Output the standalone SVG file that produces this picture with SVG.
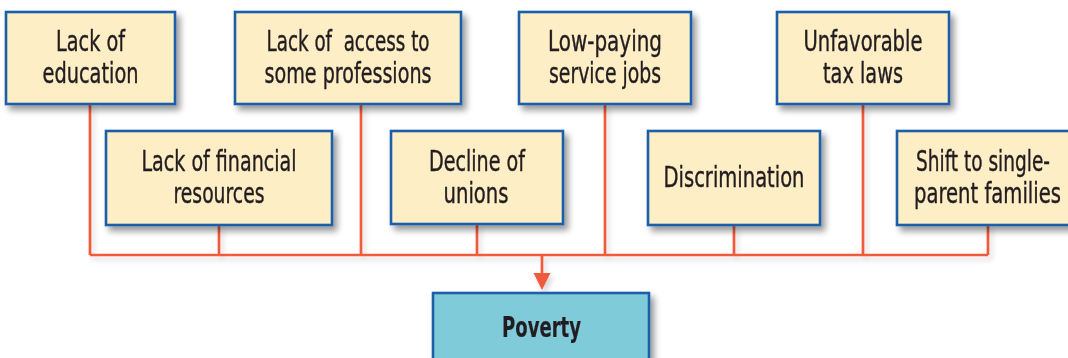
<svg xmlns="http://www.w3.org/2000/svg" width="1068" height="358" viewBox="0 0 1068 358">
<style>
.box{fill:#fdeec6;stroke:#1b5fa9;stroke-width:2.6;}
.pov{fill:#7fcbd9;stroke:#1b5fa9;stroke-width:2.6;}
.t{font-family:"Liberation Sans Narrow","DejaVu Sans Condensed","Liberation Sans",sans-serif;font-size:29px;fill:#231f20;stroke:#231f20;stroke-width:0.4;text-anchor:middle;}
.b{font-weight:bold;stroke-width:0.2;}
.ln{fill:none;stroke:#f05a3e;stroke-width:2.7;}
</style>
<defs>
<filter id="sh" x="-10%" y="-10%" width="130%" height="140%">
<feDropShadow dx="4" dy="5" stdDeviation="3" flood-color="#000" flood-opacity="0.4"/>
</filter>
<filter id="shl" x="-5%" y="-50%" width="110%" height="300%">
<feDropShadow dx="3" dy="4" stdDeviation="2.5" flood-color="#000" flood-opacity="0.15"/>
</filter>
</defs>
<g id="connectors" filter="url(#shl)">
<path class="ln" d="M90 104V255M219 225V255M361 104V255M477 225V255M605 104V255M734 225V255M863 104V255M988 225V255M90 255H988M542 255V274"/>
<polygon points="533.5,273 550.5,273 542,290" fill="#f05a3e"/>
</g>
<g id="n1" filter="url(#sh)"><rect class="box" x="6" y="12" width="169" height="92"/>
<text class="t" x="90.5" y="51" textLength="69" lengthAdjust="spacingAndGlyphs">Lack of</text>
<text class="t" x="90.5" y="83" textLength="96" lengthAdjust="spacingAndGlyphs">education</text></g>
<g id="n2" filter="url(#sh)"><rect class="box" x="235" y="12" width="226" height="92"/>
<text class="t" x="348" y="51" textLength="163" lengthAdjust="spacingAndGlyphs" xml:space="preserve">Lack of  access to</text>
<text class="t" x="348" y="83" textLength="167" lengthAdjust="spacingAndGlyphs">some professions</text></g>
<g id="n3" filter="url(#sh)"><rect class="box" x="519" y="12" width="172" height="92"/>
<text class="t" x="605" y="51" textLength="114" lengthAdjust="spacingAndGlyphs">Low-paying</text>
<text class="t" x="605" y="83" textLength="112" lengthAdjust="spacingAndGlyphs">service jobs</text></g>
<g id="n4" filter="url(#sh)"><rect class="box" x="777" y="12" width="172" height="92"/>
<text class="t" x="863" y="51" textLength="119" lengthAdjust="spacingAndGlyphs">Unfavorable</text>
<text class="t" x="863" y="83" textLength="80" lengthAdjust="spacingAndGlyphs">tax laws</text></g>
<g id="n5" filter="url(#sh)"><rect class="box" x="106" y="131" width="226" height="94"/>
<text class="t" x="219" y="171" textLength="155" lengthAdjust="spacingAndGlyphs">Lack of financial</text>
<text class="t" x="219" y="203" textLength="91" lengthAdjust="spacingAndGlyphs">resources</text></g>
<g id="n6" filter="url(#sh)"><rect class="box" x="391" y="131" width="172" height="93"/>
<text class="t" x="477" y="171" textLength="96" lengthAdjust="spacingAndGlyphs">Decline of</text>
<text class="t" x="476" y="203" textLength="65" lengthAdjust="spacingAndGlyphs">unions</text></g>
<g id="n7" filter="url(#sh)"><rect class="box" x="648" y="131" width="172" height="94"/>
<text class="t" x="734" y="187" textLength="141" lengthAdjust="spacingAndGlyphs">Discrimination</text></g>
<g id="n8" filter="url(#sh)"><rect class="box" x="897" y="131" width="182" height="94"/>
<text class="t" x="983" y="171" textLength="134" lengthAdjust="spacingAndGlyphs">Shift to single-</text>
<text class="t" x="987.5" y="203" textLength="147" lengthAdjust="spacingAndGlyphs">parent families</text></g>
<g id="poverty" filter="url(#sh)"><rect class="pov" x="433" y="293" width="216" height="80"/>
<text class="t b" x="541.5" y="337" textLength="79" lengthAdjust="spacingAndGlyphs">Poverty</text></g>
</svg>
